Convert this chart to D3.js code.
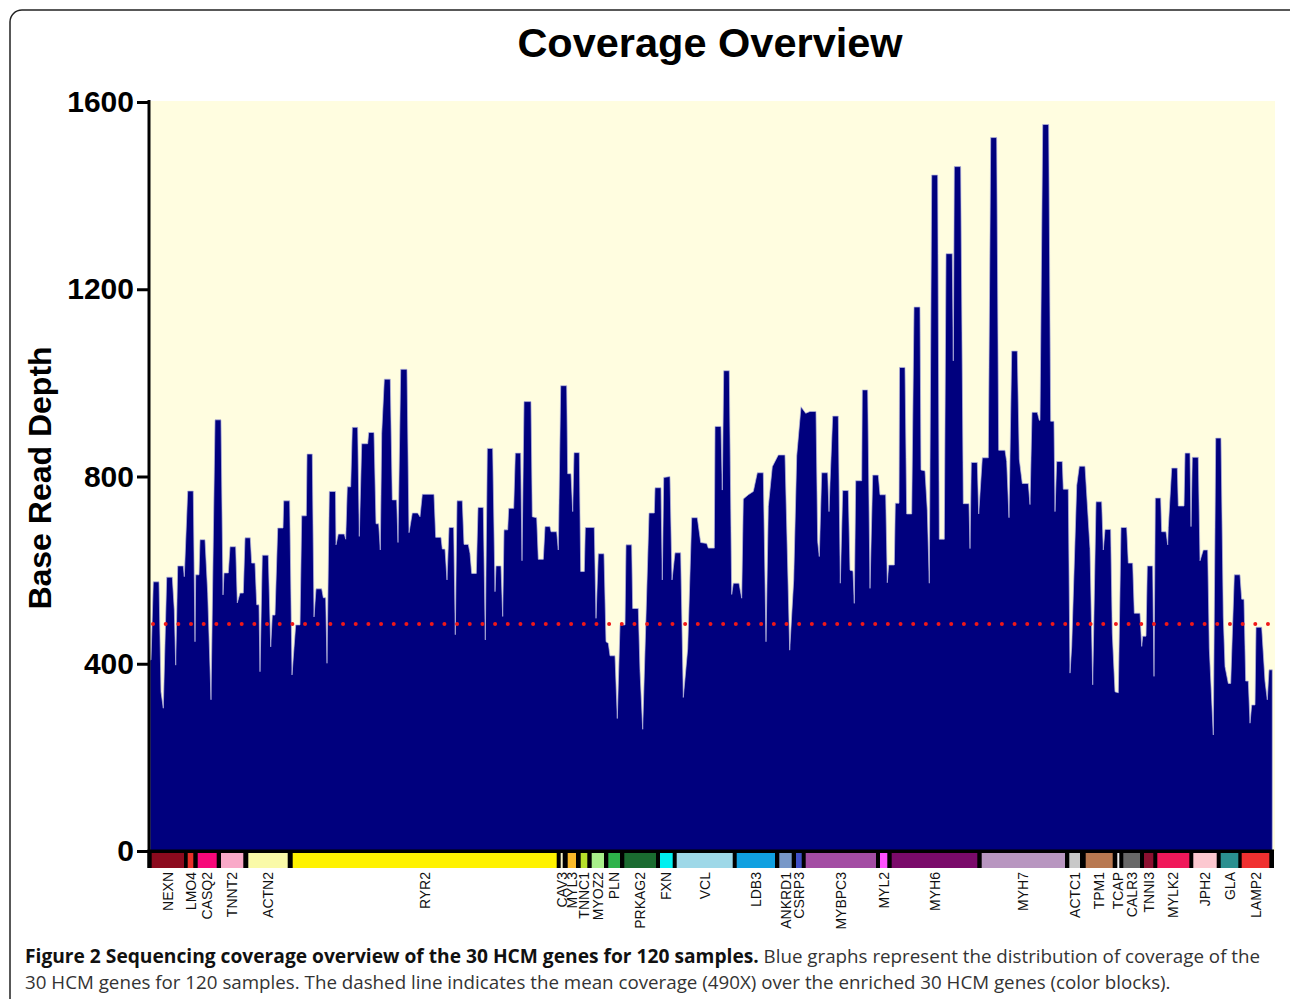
<!DOCTYPE html>
<html><head><meta charset="utf-8">
<script src="https://cdn.jsdelivr.net/npm/d3@7"></script>
<style>body{margin:0;background:#fff}</style>
</head><body><svg id="chart" width="1290" height="999"></svg>
<script>
const title = "Coverage Overview";
const yLabel = "Base Read Depth";
const yTicks = [0, 400, 800, 1200, 1600];
const meanCoverage = 485;
const captionBold = "Figure 2 Sequencing coverage overview of the 30 HCM genes for 120 samples.";
const captionRest1 = " Blue graphs represent the distribution of coverage of the";
const captionLine2 = "30 HCM genes for 120 samples. The dashed line indicates the mean coverage (490X) over the enriched 30 HCM genes (color blocks).";

const geneNames = ["NEXN","LMO4","CASQ2","TNNT2","ACTN2","RYR2","CAV3","MYL3","TNNC1","MYOZ2","PLN","PRKAG2","FXN","VCL","LDB3","ANKRD1","CSRP3","MYBPC3","MYL2","MYH6","MYH7","ACTC1","TPM1","TCAP","CALR3","TNNI3","MYLK2","JPH2","GLA","LAMP2"];
const geneStart = [1.7,37.7,47.7,71.0,98.3,142.7,410.7,417.7,430.7,441.7,458.3,474.3,510.0,526.7,586.7,629.3,646.0,655.7,730.0,741.7,831.7,919.3,935.7,967.3,973.3,994.0,1007.3,1043.3,1070.7,1091.7];
const geneEnd   = [34.0,43.3,66.7,93.3,137.7,406.7,412.7,426.0,437.3,454.0,470.0,506.0,522.7,582.7,625.0,641.7,651.7,726.0,737.3,827.3,915.0,930.0,962.7,969.3,990.0,1003.3,1039.3,1066.7,1088.3,1119.3];
const geneColors = ["#8c0a1e","#e8302a","#f7087a","#f9a9c8","#fafaa8","#fff200","#f5f0c8","#f9b92a","#b6e02a","#a8f08a","#2db34a","#1a6b30","#00f0f0","#9ed8e8","#10a0e0","#7898c8","#4050c8","#a34ca3","#ff50ff","#7a0a6a","#b896c0","#c8c8c8","#b87850","#eeeeee","#686868","#8c1030","#f0185a","#fcc8d0","#2a9090","#f03030"];

// target position (concatenated enriched regions, relative units) and mean base read depth
const positions = [0,1.0,3.3,9.0,11.0,13.3,16.7,22.3,24.3,25.7,27.7,33.3,34.3,37.7,43.3,45.0,45.7,49.0,50.0,55.0,57.7,61.0,65.0,71.0,73.0,74.0,78.3,80.0,85.7,87.3,90.0,93.3,95.0,100.3,101.7,105.0,106.7,109.0,110.0,112.3,118.3,120.7,122.3,125.0,127.7,133.0,133.7,139.7,142.0,145.7,150.0,151.7,156.3,157.0,162.3,164.0,166.0,171.7,173.3,175.7,177.0,179.3,185.5,
186.0,188.3,194.3,195.7,197.3,200.7,202.3,207.7,209.3,211.7,217.7,218.7,224.0,226.0,228.7,230.3,231.7,234.3,240.3,242.3,246.7,248.0,250.7,257.0,259.0,262.3,267.7,270.0,272.3,284.0,285.7,291.0,292.3,295.0,297.0,299.0,303.7,305.3,307.0,312.3,314.0,318.3,320.0,321.7,326.3,328.0,333.3,335.3,337.3,342.7,345.0,346.0,351.0,352.7,354.0,357.7,358.7,363.7,365.3,370.7,372.0,374.0,
381.0,382.3,386.7,388.3,393.3,395.0,400.0,401.0,406.7,408.3,410.7,416.7,417.7,421.0,422.7,424.0,429.3,430.7,434.3,435.3,444.3,446.0,448.3,454.0,456.0,458.3,460.0,465.0,467.3,470.0,475.0,476.0,481.7,482.7,488.3,490.0,492.7,499.0,504.3,505.0,511.0,512.3,513.7,520.0,522.0,525.0,530.7,533.3,537.7,541.7,547.3,550.7,556.7,558.3,564.3,
565.0,571.0,572.3,573.7,579.3,581.7,583.3,589.0,591.7,593.3,598.3,603.3,607.3,613.3,616.0,618.3,622.3,628.3,635.0,639.7,643.7,646.7,651.0,655.7,660.0,666.0,667.7,669.3,671.7,677.7,679.0,680.0,682.7,688.3,690.3,692.7,698.3,700.0,703.0,704.3,705.7,711.7,712.3,717.7,720.0,722.7,728.3,730.0,735.7,737.3,738.7,744.3,745.3,749.0,749.5,
755.0,756.7,761.7,764.0,770.0,771.0,775.0,777.3,779.3,781.7,787.7,789.3,794.3,796.0,802.3,803.3,804.3,810.7,813.3,819.0,820.0,821.3,827.3,828.7,832.3,838.3,840.7,846.7,848.7,855.0,856.7,859.0,861.7,867.3,869.3,872.3,878.3,880.0,882.0,887.3,889.3,890.0,892.7,898.7,900.7,904.0,905.0,906.7,912.3,913.3,918.3,920.0,921.7,926.7,929.3,935.0,940.0,
942.7,946.0,951.7,953.3,955.0,960.7,962.3,965.0,968.3,971.0,976.7,978.3,982.7,984.3,990.0,991.7,992.7,996.0,997.3,1002.7,1004.0,1005.3,1010.7,1011.7,1016.0,1017.7,1018.3,1021.7,1027.3,1028.3,1034.0,1035.0,1040.0,1041.0,1042.3,1048.3,1050.0,1053.3,1057.7,1059.3,1063.3,1065.7,1071.0,1073.3,1075.0,1078.3,1080.7,1084.3,1090.0,1091.7,1094.0,1095.7,1098.3,1100.0,1101.7,1105.0,1106.0,1111.7,1115.0,1117.3,1119.0,1122.3];
const depth = [408,408,575,575,340,305,585,585,515,397,609,609,586,769,769,447,590,590,665,665,551,323,921,921,547,594,594,650,650,530,551,551,669,669,615,615,526,526,383,632,632,436,504,504,690,690,748,748,376,483,483,716,716,848,848,500,560,560,541,541,401,768,768,
654,677,677,666,778,778,905,905,672,870,870,894,894,699,699,643,892,1008,1008,750,750,659,1029,1029,680,722,722,714,762,762,670,670,645,645,579,691,691,462,748,748,655,655,636,593,593,734,734,451,860,860,554,609,609,501,686,686,732,732,850,850,620,960,
960,714,712,623,623,693,693,682,682,643,994,994,806,806,725,851,851,597,597,691,691,497,635,635,447,444,417,417,283,483,483,654,654,518,518,385,260,722,722,776,776,579,798,800,579,637,637,328,432,712,712,659,657,647,647,
907,907,771,1026,1026,548,572,572,540,752,761,768,808,808,447,736,821,846,846,429,579,844,949,935,939,939,661,629,808,808,725,786,929,929,572,770,770,600,598,529,791,791,985,985,561,803,803,761,761,573,611,611,743,743,1033,
1033,720,720,1162,1162,814,812,728,572,1444,1444,666,666,1276,1276,1047,1462,1462,742,742,646,830,830,720,840,840,1524,1524,856,856,832,712,1068,1068,837,785,785,740,937,937,920,920,1552,1552,918,918,725,832,832,773,773,380,437,781,822,822,646,
355,746,746,643,687,687,465,340,338,691,691,615,615,508,508,437,459,459,609,609,373,754,754,682,682,654,691,818,818,737,737,850,850,693,841,841,620,643,643,433,248,882,882,501,394,358,358,590,590,538,538,363,363,273,312,312,478,478,363,323,387,387];

const svg = d3.select("#chart");
const x = d3.scaleLinear().domain([0, 1124]).range([150, 1274]);
const y = d3.scaleLinear().domain([0, 1600]).range([851, 102]);
const sans = "Liberation Sans, Arial, sans-serif";

// frame
svg.append("rect").attr("x", 10).attr("y", 10).attr("width", 1300).attr("height", 1100)
  .attr("rx", 12).attr("fill", "#fff").attr("stroke", "#222").attr("stroke-width", 1.5);

// plot background
svg.append("rect").attr("x", x(0)).attr("y", 101).attr("width", 1275 - x(0)).attr("height", y(0) - 101)
  .attr("fill", "#fffde0");

const pts = positions.map((p, i) => [p, depth[i]]);
const area = d3.area().x(d => x(d[0])).y0(y(0)).y1(d => y(d[1])).curve(d3.curveLinear);
svg.append("path").datum(pts).attr("d", area)
  .attr("fill", "#00007e").attr("stroke", "#b8b8e0").attr("stroke-width", 0.7);

// mean line
svg.append("line").attr("x1", x(3)).attr("x2", x(1120)).attr("y1", y(meanCoverage)).attr("y2", y(meanCoverage))
  .attr("stroke", "#f01818").attr("stroke-width", 4).attr("stroke-linecap", "round")
  .attr("stroke-dasharray", "0 12.67");

// gene bar
svg.append("rect").attr("x", 147.5).attr("y", 849.5).attr("width", 1274 - 147.5).attr("height", 18.5).attr("fill", "#000");
svg.append("g").selectAll("rect").data(geneNames).join("rect")
  .attr("x", (d, i) => x(geneStart[i])).attr("width", (d, i) => x(geneEnd[i]) - x(geneStart[i]))
  .attr("y", 853).attr("height", 15).attr("fill", (d, i) => geneColors[i]);
svg.append("g").selectAll("text").data(geneNames).join("text")
  .attr("transform", (d, i) => `translate(${x((geneStart[i] + geneEnd[i]) / 2)},872) rotate(-90)`)
  .attr("text-anchor", "end").attr("dy", "0.36em")
  .attr("font-family", sans).attr("font-size", 14).attr("fill", "#111")
  .text(d => d);

// y axis
const yAxis = d3.axisLeft(y).tickValues(yTicks).tickSize(12).tickSizeOuter(0).tickPadding(3).tickFormat(d3.format("d"));
const ga = svg.append("g").attr("transform", "translate(149,0)").call(yAxis);
ga.select(".domain").remove();
ga.selectAll(".tick line").attr("stroke", "#000").attr("stroke-width", 3);
ga.selectAll(".tick text").attr("font-family", sans)
  .attr("font-weight", "bold").attr("font-size", 30).attr("fill", "#000");
svg.append("line").attr("x1", 149).attr("x2", 149).attr("y1", 100).attr("y2", 868)
  .attr("stroke", "#000").attr("stroke-width", 3);

// titles
svg.append("text").attr("x", 710).attr("y", 57).attr("text-anchor", "middle")
  .attr("font-family", sans).attr("font-weight", "bold").attr("font-size", 41.5)
  .attr("fill", "#000").text(title);
svg.append("text").attr("transform", "translate(51,478) rotate(-90)").attr("text-anchor", "middle")
  .attr("font-family", sans).attr("font-weight", "bold").attr("font-size", 32)
  .attr("fill", "#000").text(yLabel);

// caption
const cap1 = svg.append("text").attr("x", 25).attr("y", 963)
  .attr("font-family", "Open Sans, sans-serif").attr("font-size", 18.75).attr("fill", "#333");
cap1.append("tspan").attr("font-weight", "bold").attr("font-size", 19.2).attr("fill", "#111").text(captionBold);
cap1.append("tspan").text(captionRest1);
svg.append("text").attr("x", 25).attr("y", 989)
  .attr("font-family", "Open Sans, sans-serif").attr("font-size", 18.75).attr("fill", "#333").text(captionLine2);
</script></body></html>
